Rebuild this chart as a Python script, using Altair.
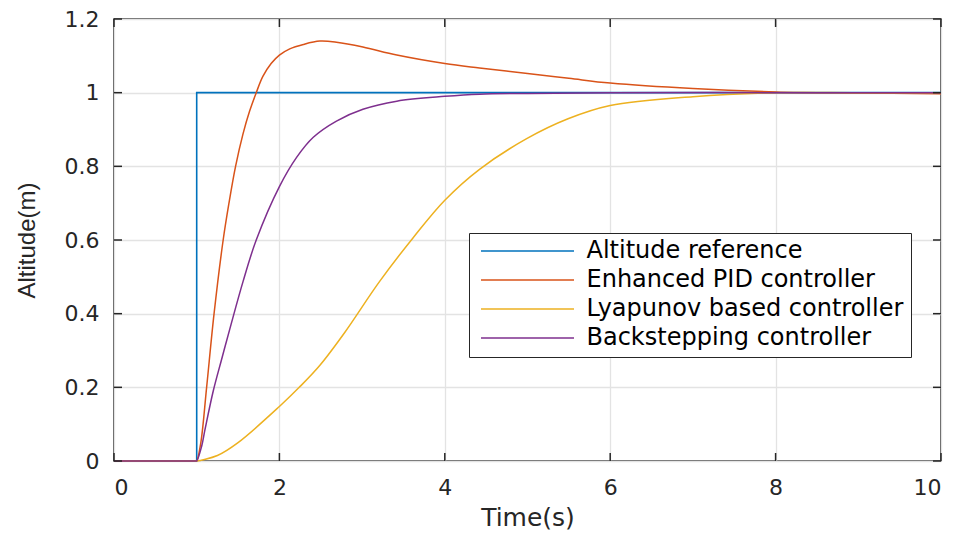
import altair as alt
import pandas as pd

names = ["Altitude reference", "Enhanced PID controller", "Lyapunov based controller", "Backstepping controller"]
colors = ["#0072BD", "#D95319", "#EDB120", "#7E2F8E"]

ref_t = [0, 1, 1, 10]
ref_v = [0, 0, 1, 1]

pid_t = [0, 0.99, 1.0, 1.05, 1.12, 1.21, 1.32, 1.39, 1.47, 1.56, 1.64, 1.72, 1.80, 1.90, 2.0, 2.125,
         2.29, 2.49, 2.69, 3.01, 3.42, 4.0, 4.42, 5.0, 5.5, 6.0, 7.0, 8.0, 9.0, 10.0]
pid_v = [0, 0.0, 0.0, 0.05, 0.2, 0.4, 0.6, 0.7, 0.8, 0.888, 0.95, 1.0, 1.044, 1.079, 1.102, 1.119,
         1.131, 1.14, 1.137, 1.124, 1.102, 1.079, 1.067, 1.052, 1.039, 1.026, 1.011, 1.002, 0.999, 0.997]

ly_t = [0, 0.99, 1.0, 1.25, 1.5, 2.0, 2.24, 2.49, 2.79, 3.21, 3.62, 4.0, 4.42, 4.99, 5.49, 6.0, 7.0, 8.0, 9.0, 10.0]
ly_v = [0, 0.0, 0.0, 0.015, 0.05, 0.148, 0.2, 0.26, 0.349, 0.487, 0.607, 0.708, 0.792, 0.875, 0.929, 0.965, 0.989, 1.0, 1.0, 1.0]

bs_t = [0, 0.99, 1.0, 1.06, 1.1, 1.2, 1.3, 1.4, 1.56, 1.72, 2.0, 2.21, 2.41, 2.69, 3.01, 3.42, 4.0, 4.42, 5.0, 6.0, 8.0, 10.0]
bs_v = [0, 0.0, 0.0, 0.04, 0.085, 0.19, 0.275, 0.358, 0.487, 0.6, 0.745, 0.825, 0.879, 0.923, 0.955, 0.977, 0.99, 0.996, 0.998, 1.0, 1.0, 1.0]

x_ticks = [0, 2, 4, 6, 8, 10]
y_ticks = [0, 0.2, 0.4, 0.6, 0.8, 1.0, 1.2]

W, H = 827, 442
TICK = 8
AX = "#262626"


def frame(t, v, name):
    return pd.DataFrame({"t": t, "v": v, "series": name})


X = alt.X("t:Q", scale=alt.Scale(domain=[0, 10], nice=False),
          axis=alt.Axis(values=x_ticks, title="Time(s)", labelBaseline="alphabetic",
                        labelPadding=33, titleFont="DejaVu Sans", titleFontSize=25,
                        titleFontWeight="normal", titleBaseline="alphabetic", titleY=64))
Y = alt.Y("v:Q", scale=alt.Scale(domain=[0, 1.2], nice=False),
          axis=alt.Axis(values=y_ticks, title="Altitude(m)", labelPadding=15,
                        labelExpr="format(datum.value, '.1~f')",
                        titleFont="Liberation Sans", titleFontSize=24, titleFontWeight="normal",
                        titleBaseline="alphabetic", titleX=-80))

C = alt.Color("series:N", scale=alt.Scale(domain=names, range=colors),
              legend=alt.Legend(title=None, orient="none", legendX=355, legendY=214,
                                symbolType="M-4.5,0H4.5", symbolSize=427, symbolStrokeWidth=1.5,
                                symbolOffset=39.5, labelOffset=47, clipHeight=22,
                                rowPadding=5, padding=7, labelFont="DejaVu Sans",
                                labelFontSize=24, labelColor="#000000", labelLimit=500,
                                strokeColor=AX, fillColor="white", cornerRadius=0))

layers = []
layers.append(alt.Chart(frame(ref_t, ref_v, names[0])).mark_line(strokeWidth=1.6, interpolate="linear")
              .encode(x=X, y=Y, color=C))
for t, v, n in [(pid_t, pid_v, names[1]), (ly_t, ly_v, names[2]), (bs_t, bs_v, names[3])]:
    layers.append(alt.Chart(frame(t, v, n)).mark_line(strokeWidth=1.5, interpolate="catmull-rom")
                  .encode(x=X, y=Y, color=C))

tx = pd.DataFrame({"t": x_ticks})
ty = pd.DataFrame({"v": y_ticks})
rule = dict(color=AX, strokeWidth=1.5)
layers.append(alt.Chart(tx).mark_rule(**rule).encode(x=X, y=alt.value(H), y2=alt.value(H - TICK)))
layers.append(alt.Chart(tx).mark_rule(**rule).encode(x=X, y=alt.value(0), y2=alt.value(TICK)))
layers.append(alt.Chart(ty).mark_rule(**rule).encode(y=Y, x=alt.value(0), x2=alt.value(TICK)))
layers.append(alt.Chart(ty).mark_rule(**rule).encode(y=Y, x=alt.value(W - TICK), x2=alt.value(W)))

chart = (alt.layer(*layers)
         .properties(width=W, height=H, autosize=alt.AutoSizeParams(type="none"),
                     padding={"left": 106, "top": 11, "right": 12, "bottom": 71},
                     background="white")
         .configure_view(stroke=AX, strokeWidth=1.5)
         .configure_axis(grid=True, gridColor="#e3e3e3", gridWidth=1.3, domain=False,
                         ticks=False, tickSize=0, labelFont="DejaVu Sans", labelFontSize=22,
                         labelColor=AX, titleColor=AX))

chart.save("out.html", embed_options={"renderer": "svg", "actions": False})
